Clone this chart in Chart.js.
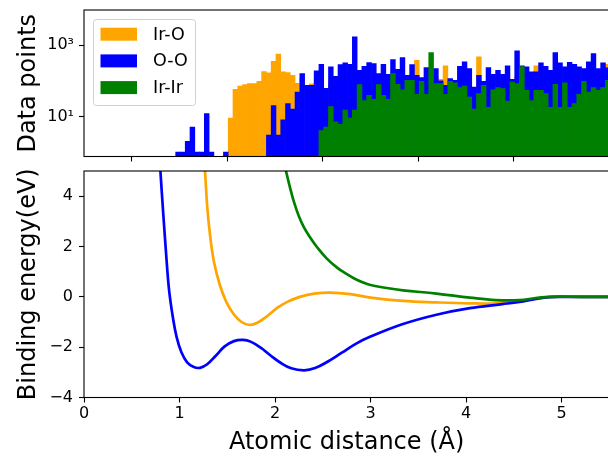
<!DOCTYPE html>
<html>
<head>
<meta charset="utf-8">
<script src="https://cdn.jsdelivr.net/npm/chart.js@4"></script>
<style>
  html, body { margin: 0; padding: 0; background: #fff; overflow: hidden; }
  body { width: 608px; height: 457px; position: relative; }
  canvas { position: absolute; left: 0; }
  #hist-chart { top: 0; }
  #energy-chart { top: 160px; }
</style>
</head>
<body>
<canvas id="hist-chart" width="616" height="170"></canvas>
<canvas id="energy-chart" width="616" height="297"></canvas>
<script>
// ---- histogram bins (Å) ----
const BIN_START = 0.96;
const BIN_WIDTH = 0.05;

// pair counts per bin, bin k starts at BIN_START + k * BIN_WIDTH
const countsIrO = [
  0, 0, 0, 0, 0, 0, 0, 0, 0, 0, 0,
  9, 58, 71, 78, 83, 83, 97, 180,
  168, 354, 565, 177, 170, 143, 85, 120, 60, 82, 110,
  95, 55, 90, 85, 120, 105, 130, 140, 115, 100,
  125, 110, 95, 130, 105, 120, 100, 135, 110, 125,
  378, 100, 120, 110, 130, 110, 261, 90, 85, 115,
  125, 120, 60, 468, 80, 105, 115, 120, 110, 125,
  95, 130, 120, 115, 110, 261, 120, 115, 105, 125,
  120, 110, 130, 115, 125, 120, 110, 130, 120, 115, 290
];
const countsOO = [
  1, 1, 2, 5, 1, 1, 12, 1, 0, 0, 1,
  0, 0, 0, 0, 0, 0, 0, 0,
  3, 20, 3, 8, 23, 16, 48, 160, 75, 75, 190,
  290, 61, 245, 134, 286, 317, 292, 1714, 198, 256,
  326, 305, 160, 292, 152, 396, 211, 451, 143, 286,
  143, 123, 235, 221, 221, 100, 75, 115, 103, 256,
  339, 221, 67, 143, 97, 235, 152, 198, 152, 261,
  110, 690, 261, 245, 177, 177, 317, 256, 198, 622,
  317, 245, 332, 292, 245, 221, 339, 583, 221, 317, 230
];
const countsIrIr = [
  0, 0, 0, 0, 0, 0, 0, 0, 0, 0, 0,
  0, 0, 0, 0, 0, 0, 0, 0,
  0, 0, 0, 0, 0, 0, 0, 0, 0, 0, 0,
  4, 5, 19, 7, 6, 15, 9, 15, 78, 28,
  39, 30, 78, 39, 30, 160, 80, 56, 103, 103,
  42, 97, 42, 622, 83, 83, 42, 97, 87, 64,
  71, 35, 16, 44, 75, 18, 56, 64, 60, 27,
  92, 83, 250, 54, 28, 54, 54, 44, 18, 80,
  18, 87, 18, 23, 42, 97, 48, 64, 54, 64, 103
];

// ---- binding energy curves ----
const irO_x = [1.24, 1.267, 1.29, 1.32, 1.36, 1.42, 1.49, 1.57, 1.65, 1.734, 1.82, 1.92, 2.03, 2.14, 2.26, 2.41, 2.58, 2.79, 3.0, 3.34, 3.69, 4.04, 4.31, 4.56, 4.73, 4.9, 5.2, 5.5];
const irO_y = [6.3, 5.0, 3.6, 2.45, 1.4, 0.5, -0.2, -0.7, -1.0, -1.12, -1.02, -0.76, -0.42, -0.18, 0.0, 0.13, 0.17, 0.105, -0.03, -0.16, -0.22, -0.26, -0.26, -0.18, -0.08, 0, 0, 0];

const oo_x = [0.78, 0.80, 0.83, 0.86, 0.89, 0.93, 0.97, 1.02, 1.08, 1.15, 1.215, 1.29, 1.38, 1.47, 1.57, 1.665, 1.75, 1.85, 1.95, 2.05, 2.17, 2.306, 2.42, 2.55, 2.7, 2.85, 3.0, 3.34, 3.69, 4.04, 4.38, 4.56, 4.73, 4.87, 5.0, 5.5];
const oo_y = [6.3, 5.0, 3.3, 1.7, 0.3, -0.8, -1.6, -2.2, -2.6, -2.79, -2.82, -2.68, -2.34, -1.98, -1.76, -1.71, -1.79, -2.02, -2.32, -2.6, -2.84, -2.92, -2.83, -2.58, -2.22, -1.86, -1.58, -1.08, -0.71, -0.45, -0.29, -0.2, -0.08, -0.01, 0, 0];

const irIr_x = [2.08, 2.115, 2.16, 2.2, 2.25, 2.306, 2.37, 2.445, 2.54, 2.65, 2.74, 2.825, 2.91, 3.0, 3.17, 3.34, 3.69, 4.04, 4.31, 4.56, 4.73, 4.87, 5.2, 5.5];
const irIr_y = [5.6, 5.0, 4.3, 3.75, 3.2, 2.74, 2.35, 1.95, 1.53, 1.16, 0.93, 0.74, 0.59, 0.47, 0.35, 0.26, 0.13, -0.03, -0.13, -0.13, -0.05, 0, 0, 0];

// axis ticks
const xTicks = [0, 1, 2, 3, 4, 5];
const energyTicks = [-4, -2, 0, 2, 4];
const countTicks = [10, 1000];

const FONT = "'DejaVu Sans', sans-serif";
const series = [
  { label: "Ir-O", color: "#ffa500", counts: countsIrO, xs: irO_x, ys: irO_y },
  { label: "O-O", color: "#0000ff", counts: countsOO, xs: oo_x, ys: oo_y },
  { label: "Ir-Ir", color: "#008000", counts: countsIrIr, xs: irIr_x, ys: irIr_y }
];

const binCenters = countsOO.map((_, k) => +(BIN_START + (k + 0.5) * BIN_WIDTH).toFixed(3));

// black box around each plot area
const framePlugin = {
  id: "frame",
  afterDraw(chart) {
    const { ctx, chartArea: a } = chart;
    ctx.save();
    ctx.strokeStyle = "#000";
    ctx.lineWidth = 1.1;
    ctx.strokeRect(a.left, a.top, a.right - a.left, a.bottom - a.top);
    ctx.restore();
  }
};

// legend box in the upper-left corner of the histogram
const boxLegend = {
  id: "boxLegend",
  afterDraw(chart) {
    const ctx = chart.ctx;
    const x = 93.5, y = 19.5, w = 102, h = 86, r = 3;
    ctx.save();
    ctx.beginPath();
    ctx.moveTo(x + r, y);
    ctx.arcTo(x + w, y, x + w, y + h, r);
    ctx.arcTo(x + w, y + h, x, y + h, r);
    ctx.arcTo(x, y + h, x, y, r);
    ctx.arcTo(x, y, x + w, y, r);
    ctx.closePath();
    ctx.fillStyle = "rgba(255,255,255,0.8)";
    ctx.fill();
    ctx.strokeStyle = "#d0d0d0";
    ctx.lineWidth = 1;
    ctx.stroke();

    ctx.font = "17.5px " + FONT;
    ctx.textBaseline = "middle";
    ctx.textAlign = "left";
    series.forEach((s, i) => {
      const cy = 34.2 + i * 26.7;
      ctx.fillStyle = s.color;
      ctx.fillRect(100.5, cy - 6.5, 36.5, 13);
      ctx.fillStyle = "#000";
      ctx.fillText(s.label, 153, cy + 1);
    });
    ctx.restore();
  }
};

const tickGrid = { drawOnChartArea: false, drawTicks: true, tickLength: 5, tickWidth: 1.1, tickColor: "#000" };

// fixed axis sizes, no extra room for overhanging labels
function fixWidth(w) {
  return s => { s.width = w; s.paddingTop = 0; s.paddingBottom = 0; };
}
function fixHeight(h) {
  return s => { s.height = h; s.paddingLeft = 0; s.paddingRight = 0; };
}

// ---- top: histogram of pair distances (log scale) ----
new Chart(document.getElementById("hist-chart"), {
  type: "bar",
  data: {
    datasets: series.map((s, i) => ({
      label: s.label,
      data: binCenters.map((c, k) => ({ x: c, y: s.counts[k] > 0 ? s.counts[k] : null })),
      backgroundColor: s.color,
      borderWidth: 0,
      grouped: false,
      barPercentage: 1,
      categoryPercentage: 1,
      order: series.length - i
    }))
  },
  options: {
    responsive: false,
    animation: false,
    devicePixelRatio: 1,
    layout: { padding: { top: 10, right: 6.75, left: 0, bottom: 0 } },
    plugins: { legend: { display: false }, tooltip: { enabled: false } },
    scales: {
      x: {
        type: "linear", min: 0, max: 5.5, offset: false,
        afterBuildTicks: s => { s.ticks = xTicks.map(v => ({ value: v })); },
        ticks: { display: false },
        grid: tickGrid,
        border: { display: false },
        afterFit: fixHeight(13.5)
      },
      y: {
        type: "logarithmic", min: 0.75, max: 9700,
        afterBuildTicks: s => { s.ticks = countTicks.map(v => ({ value: v })); },
        ticks: {
          color: "#000", font: { family: FONT, size: 16 }, padding: 5,
          callback: v => "10" + ["⁰", "¹", "²", "³", "⁴"][Math.round(Math.log10(v))]
        },
        grid: tickGrid,
        border: { display: false },
        title: { display: true, text: "Data points", color: "#000", font: { family: FONT, size: 24 }, padding: { top: 14, bottom: 0 } },
        afterFit: fixWidth(84)
      }
    }
  },
  plugins: [framePlugin, boxLegend]
});

// ---- bottom: binding energy vs distance ----
new Chart(document.getElementById("energy-chart"), {
  type: "line",
  data: {
    datasets: series.map((s, i) => ({
      label: s.label,
      data: s.xs.map((x, j) => ({ x: x, y: s.ys[j] })),
      borderColor: s.color,
      borderWidth: 2.7,
      pointRadius: 0,
      fill: false,
      tension: 0.4,
      order: series.length - i
    }))
  },
  options: {
    responsive: false,
    animation: false,
    devicePixelRatio: 1,
    layout: { padding: { top: 11, right: 6.75, left: 0, bottom: 0 } },
    plugins: { legend: { display: false }, tooltip: { enabled: false } },
    scales: {
      x: {
        type: "linear", min: 0, max: 5.5,
        afterBuildTicks: s => { s.ticks = xTicks.map(v => ({ value: v })); },
        ticks: { color: "#000", font: { family: FONT, size: 16 }, padding: 2, maxRotation: 0, autoSkip: false },
        grid: tickGrid,
        border: { display: false },
        title: { display: true, text: "Atomic distance (Å)", color: "#000", font: { family: FONT, size: 24 }, padding: { top: 0, bottom: 0 } },
        afterFit: fixHeight(59.5)
      },
      y: {
        type: "linear", min: -4, max: 5,
        afterBuildTicks: s => { s.ticks = energyTicks.map(v => ({ value: v })); },
        ticks: {
          color: "#000", font: { family: FONT, size: 16 }, padding: 6,
          callback: v => (v < 0 ? "\u2212" + Math.abs(v) : String(v))
        },
        grid: tickGrid,
        border: { display: false },
        title: { display: true, text: "Binding energy(eV)", color: "#000", font: { family: FONT, size: 24 }, padding: { top: 14, bottom: 0 } },
        afterFit: fixWidth(84)
      }
    }
  },
  plugins: [framePlugin]
});
</script>
</body>
</html>
